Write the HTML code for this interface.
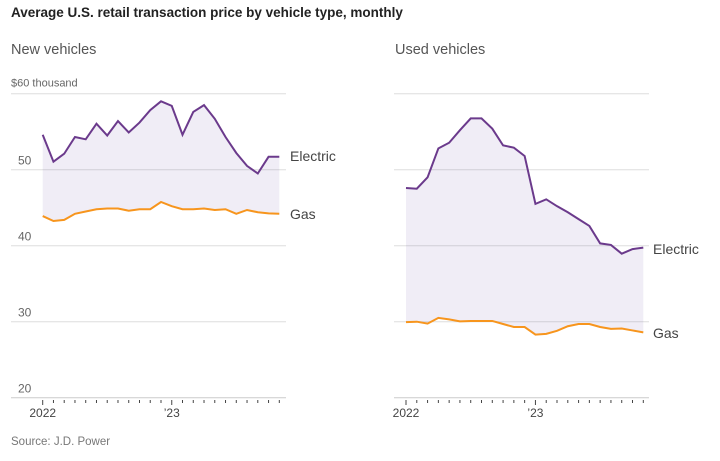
<!DOCTYPE html>
<html><head><meta charset="utf-8"><style>
body{margin:0;background:#fff;font-family:"Liberation Sans",sans-serif;}
svg text{font-family:"Liberation Sans",sans-serif;}
</style></head><body>
<svg id="c" width="720" height="456">
<text x="11" y="17" font-size="13.5" font-weight="bold" fill="#222">Average U.S. retail transaction price by vehicle type, monthly</text>
<text x="11" y="54" font-size="14.5" fill="#555">New vehicles</text>
<text x="395" y="54" font-size="14.5" fill="#555">Used vehicles</text>
<text x="11" y="445" font-size="11.5" fill="#777">Source: J.D. Power</text>
</svg>
<script>
const months = ["2022-01","2022-02","2022-03","2022-04","2022-05","2022-06","2022-07","2022-08","2022-09","2022-10","2022-11","2022-12","2023-01","2023-02","2023-03","2023-04","2023-05","2023-06","2023-07","2023-08","2023-09","2023-10","2023-11"];
const newElectric = [54.6,51.05,52.1,54.3,54.0,56.05,54.5,56.4,54.9,56.2,57.85,59.0,58.4,54.6,57.6,58.5,56.7,54.3,52.2,50.5,49.5,51.7,51.7];
const newGas = [43.9,43.25,43.4,44.2,44.5,44.8,44.9,44.9,44.6,44.8,44.8,45.75,45.2,44.8,44.8,44.9,44.7,44.8,44.2,44.7,44.4,44.25,44.2];
const usedElectric = [47.6,47.5,49.0,52.8,53.55,55.2,56.75,56.75,55.4,53.2,52.9,51.8,45.5,46.1,45.2,44.4,43.5,42.6,40.3,40.1,38.95,39.55,39.75];
const usedGas = [29.95,30.0,29.75,30.5,30.3,30.05,30.1,30.1,30.1,29.7,29.3,29.3,28.3,28.4,28.8,29.4,29.7,29.7,29.3,29.05,29.1,28.85,28.6];
const yTicks = [20,30,40,50,60];
const yTickLabels = ["20","30","40","50","$60 thousand"];
const xLabels = [{i:0,t:"2022"},{i:12,t:"\u201923"}];

const NS="http://www.w3.org/2000/svg";
const svg=document.getElementById('c');
function el(tag,attrs,parent){const e=document.createElementNS(NS,tag);for(const k in attrs)e.setAttribute(k,attrs[k]);(parent||svg).appendChild(e);return e;}
const y=v=>397.7-(v-20)*7.6;

function panel(name,x0,xStep,gL,gR,elec,gas,showY,labElecY,labGasY,labX){
  const g=el('g',{});
  
  
  const x=i=>x0+i*xStep;
  yTicks.forEach((t,k)=>{
    if(k===0)return;
    const l=el('line',{x1:gL,x2:gR,y1:y(t),y2:y(t),stroke:'#ddd','stroke-width':1},g);
    
    
    if(showY){
      const tx=el('text',{x:k===4?11:18,y:y(t)-(k===4?7:5),'font-size':k===4?11:12,fill:'#666'},g);
      tx.textContent=yTickLabels[k];
      
      
    }
  });
  if(showY){
    const tx=el('text',{x:18,y:y(20)-5,'font-size':12,fill:'#666'},g);tx.textContent=yTickLabels[0];
    
    
  }
  const b=el('line',{x1:gL,x2:gR,y1:397.7,y2:397.7,stroke:'#ccc','stroke-width':1},g);
  
  
  months.forEach((m,i)=>{
    const big=xLabels.some(o=>o.i===i);
    const t=el('line',{x1:x(i),x2:x(i),y1:400,y2:big?405:403,stroke:'#444','stroke-width':1},g);
    
    
  });
  xLabels.forEach(o=>{
    const t=el('text',{x:x(o.i),y:417,'font-size':12,fill:'#444','text-anchor':'middle'},g);t.textContent=o.t;
    
    
  });
  let d=elec.map((v,i)=>(i?'L':'M')+x(i)+','+y(v)).join('');
  for(let i=gas.length-1;i>=0;i--)d+='L'+x(i)+','+y(gas[i]);
  const a=el('path',{d:d+'Z',fill:'#5a3c9e','fill-opacity':0.09},g);
  
  
  const le=el('path',{d:elec.map((v,i)=>(i?'L':'M')+x(i)+','+y(v)).join(''),fill:'none',stroke:'#6b3a8c','stroke-width':2},g);
  
  
  const lg=el('path',{d:gas.map((v,i)=>(i?'L':'M')+x(i)+','+y(v)).join(''),fill:'none',stroke:'#f7951d','stroke-width':2},g);
  
  
  const t1=el('text',{x:labX,y:labElecY,'font-size':14,fill:'#444'},g);t1.textContent='Electric';
  
  
  const t2=el('text',{x:labX,y:labGasY,'font-size':14,fill:'#444'},g);t2.textContent='Gas';
  
  
}
panel('new',42.7,(279.3-42.7)/22,11,286,newElectric,newGas,true,161,219,290);
panel('used',406,(643.3-406)/22,394,649,usedElectric,usedGas,false,254,338,653);
</script>
</body></html>
